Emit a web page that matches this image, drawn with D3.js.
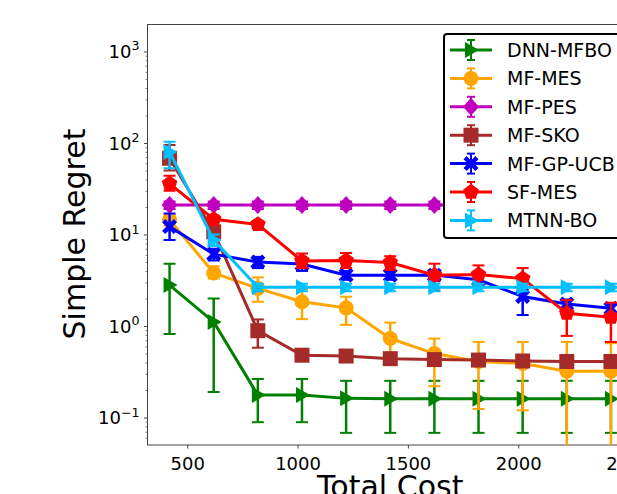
<!DOCTYPE html>
<html>
<head>
<meta charset="utf-8">
<script src="https://cdn.jsdelivr.net/npm/d3@7"></script>
<style>
  body { margin: 0; background: #fff; }
  svg { display: block; font-family: 'DejaVu Sans', sans-serif; }
</style>
</head>
<body>
<svg id="chart" width="617" height="494"></svg>
<script>
// total cost at each evaluation step
var costs = [420, 620, 820, 1020, 1220, 1420, 1620, 1820, 2020, 2220, 2420]

var dnnMean = [2.8, 1.11, 0.176, 0.176, 0.162, 0.16, 0.16, 0.16, 0.16, 0.16, 0.16]
var dnnLo = [0.82, 0.19, 0.089, 0.089, 0.068, 0.068, 0.068, 0.068, 0.068, 0.068, 0.068]
var dnnHi = [4.8, 2.0, 0.264, 0.264, 0.252, 0.252, 0.252, 0.252, 0.252, 0.252, 0.252]

var mesMean = [14.5, 3.8, 2.58, 1.84, 1.58, 0.73, 0.5, 0.41, 0.39, 0.32, 0.32]
var mesLo = [12.5, 3.3, 1.84, 1.19, 1.03, 0.48, 0.22, 0.124, 0.12, 0.001, 0.001]
var mesHi = [16.5, 4.5, 3.4, 2.52, 2.09, 1.09, 0.73, 0.67, 0.67, 0.67, 0.65]

var pesMean = [21, 21, 21, 21, 21, 21, 21, 21, 21, 21, 21]
var pesLo = [19, 19, 19, 19, 19, 19, 19, 19, 19, 19, 19]
var pesHi = [23, 23, 23, 23, 23, 23, 23, 23, 23, 23, 23]

var skoMean = [68, 10.7, 0.89, 0.48, 0.47, 0.44, 0.43, 0.425, 0.415, 0.41, 0.41]
var skoLo = [50, 9.5, 0.58, 0.45, 0.44, 0.41, 0.4, 0.4, 0.39, 0.385, 0.385]
var skoHi = [95, 12, 1.18, 0.51, 0.5, 0.47, 0.46, 0.45, 0.44, 0.435, 0.435]

var ucbMean = [12.2, 6.1, 5.0, 4.75, 3.6, 3.6, 3.6, 3.2, 2.1, 1.74, 1.56]
var ucbLo = [8.7, 5.2, 4.3, 4.0, 3.2, 3.2, 3.1, 2.9, 1.32, 1.55, 1.4]
var ucbHi = [17, 7.0, 5.7, 5.5, 4.0, 4.0, 4.1, 3.6, 2.5, 1.95, 1.72]

var sfMean = [36, 14.7, 12.9, 5.15, 5.2, 4.95, 3.6, 3.65, 3.3, 1.38, 1.25]
var sfLo = [30, 13.5, 11.8, 4.3, 4.3, 4.1, 2.45, 2.9, 2.6, 0.78, 0.67]
var sfHi = [44, 16, 14, 6.2, 6.3, 5.8, 4.8, 4.6, 4.3, 1.92, 1.8]

var mtnnMean = [80, 8.7, 2.65, 2.65, 2.65, 2.65, 2.65, 2.65, 2.65, 2.65, 2.65]
var mtnnLo = [53, 7.5, 2.4, 2.4, 2.4, 2.4, 2.4, 2.4, 2.4, 2.4, 2.4]
var mtnnHi = [103, 10, 2.9, 2.9, 2.9, 2.9, 2.9, 2.9, 2.9, 2.9, 2.9]

var names = ['DNN-MFBO', 'MF-MES', 'MF-PES', 'MF-SKO', 'MF-GP-UCB', 'SF-MES', 'MTNN-BO']
var colors = ['#008000', '#ffa500', '#bf00bf', '#a52a2a', '#0000ff', '#ff0000', '#00bfff']
var markers = ['tri', 'circle', 'diamond', 'square', 'x', 'pentagon', 'tri']

var xTicks = [500, 1000, 1500, 2000, 2500]
var yTicks = [0.1, 1, 10, 100, 1000]
var yExps = ['\u22121', '0', '1', '2', '3']

var series = [
    { mean: dnnMean, lo: dnnLo, hi: dnnHi },
    { mean: mesMean, lo: mesLo, hi: mesHi },
    { mean: pesMean, lo: pesLo, hi: pesHi },
    { mean: skoMean, lo: skoLo, hi: skoHi },
    { mean: ucbMean, lo: ucbLo, hi: ucbHi },
    { mean: sfMean, lo: sfLo, hi: sfHi },
    { mean: mtnnMean, lo: mtnnLo, hi: mtnnHi }
]

var pL = 147.5, pR = 633, pT = 24.5, pB = 445

var x = d3.scaleLinear().domain([320, 2520]).range([pL, pR])
var y = d3.scaleLog().domain([Math.pow(10, -1.3), Math.pow(10, 3.295)]).range([pB, pT])

var svg = d3.select('#chart')

svg.append('defs').append('clipPath').attr('id', 'plotclip')
    .append('rect').attr('x', pL).attr('y', pT)
    .attr('width', pR - pL).attr('height', pB - pT)

// marker path builder, centred on 0,0
function markerPath(kind) {
    var p = d3.path()
    if (kind === 'circle') {
        p.arc(0, 0, 7.5, 0, 2 * Math.PI)
    } else if (kind === 'square') {
        p.rect(-7.5, -7.5, 15, 15)
    } else if (kind === 'diamond') {
        p.moveTo(0, -9); p.lineTo(8, 0); p.lineTo(0, 9); p.lineTo(-8, 0); p.closePath()
    } else if (kind === 'tri') {
        p.moveTo(8, 0); p.lineTo(-6, -8); p.lineTo(-6, 8); p.closePath()
    } else if (kind === 'pentagon') {
        for (var i = 0; i < 5; i++) {
            var a = -Math.PI / 2 + i * 2 * Math.PI / 5
            var px = 8.2 * Math.cos(a), py = 8.2 * Math.sin(a)
            if (i === 0) p.moveTo(px, py); else p.lineTo(px, py)
        }
        p.closePath()
    } else if (kind === 'x') {
        var s = 7.5, w = 3.2
        p.moveTo(-s + w, -s); p.lineTo(0, -w); p.lineTo(s - w, -s); p.lineTo(s, -s + w)
        p.lineTo(w, 0); p.lineTo(s, s - w); p.lineTo(s - w, s); p.lineTo(0, w)
        p.lineTo(-s + w, s); p.lineTo(-s, s - w); p.lineTo(-w, 0); p.lineTo(-s, -s + w)
        p.closePath()
    }
    return p.toString()
}

// spines
svg.append('rect').attr('x', pL).attr('y', pT)
    .attr('width', pR - pL).attr('height', pB - pT)
    .attr('fill', 'none').attr('stroke', '#444').attr('stroke-width', 1)

// x axis
var xAxis = d3.axisBottom(x).tickValues(xTicks).tickSize(3.5).tickPadding(4).tickFormat(d3.format('d'))
var xg = svg.append('g').attr('transform', 'translate(0,' + pB + ')').call(xAxis)
xg.select('.domain').remove()
xg.selectAll('.tick line').attr('stroke', '#444')
xg.selectAll('.tick text').attr('font-size', 18).attr('font-family', 'DejaVu Sans')
    .attr('fill', '#000').attr('dy', '0.95em')

// y axis: major ticks with 10^n labels, minor ticks in between
var minor = []
for (var e = -2; e <= 3; e++) {
    for (var m = 2; m <= 9; m++) {
        var v = m * Math.pow(10, e)
        if (v >= y.domain()[0] && v <= y.domain()[1]) minor.push(v)
    }
}
var yAxisMinor = d3.axisLeft(y).tickValues(minor).tickSize(2).tickFormat('')
var ygm = svg.append('g').attr('transform', 'translate(' + pL + ',0)').call(yAxisMinor)
ygm.select('.domain').remove()
ygm.selectAll('.tick line').attr('stroke', '#444').attr('stroke-width', 0.7)

var yAxis = d3.axisLeft(y).tickValues(yTicks).tickSize(3.5).tickFormat('')
var yg = svg.append('g').attr('transform', 'translate(' + pL + ',0)').call(yAxis)
yg.select('.domain').remove()
yg.selectAll('.tick line').attr('stroke', '#444')

yTicks.forEach(function (t, i) {
    var tx = svg.append('text').attr('x', 139.5).attr('y', y(t) + 6.5)
        .attr('text-anchor', 'end').attr('font-size', 18).attr('fill', '#000')
    tx.append('tspan').text('10')
    tx.append('tspan').attr('font-size', 12.6).attr('dy', -7.5).text(yExps[i])
})

// axis titles (the x title is cut by the bottom edge, as in the source figure)
svg.append('text').attr('x', (pL + pR) / 2).attr('y', 497)
    .attr('text-anchor', 'middle').attr('font-size', 30).text('Total Cost')
svg.append('text').attr('transform', 'translate(85,234) rotate(-90)')
    .attr('text-anchor', 'middle').attr('font-size', 30).text('Simple Regret')

// series
var plot = svg.append('g').attr('clip-path', 'url(#plotclip)')
var line = d3.line().x(function (d) { return x(d.c) }).y(function (d) { return y(d.m) })

series.forEach(function (s, k) {
    var pts = costs.map(function (c, i) {
        return { c: c, m: s.mean[i], lo: s.lo[i], hi: s.hi[i] }
    })
    var g = plot.append('g')
    var col = colors[k]

    g.selectAll('line.err').data(pts).enter().append('line')
        .attr('x1', function (d) { return x(d.c) }).attr('x2', function (d) { return x(d.c) })
        .attr('y1', function (d) { return y(d.hi) }).attr('y2', function (d) { return y(d.lo) })
        .attr('stroke', col).attr('stroke-width', 2.5)
    g.selectAll('line.caphi').data(pts).enter().append('line')
        .attr('x1', function (d) { return x(d.c) - 6 }).attr('x2', function (d) { return x(d.c) + 6 })
        .attr('y1', function (d) { return y(d.hi) }).attr('y2', function (d) { return y(d.hi) })
        .attr('stroke', col).attr('stroke-width', 2)
    g.selectAll('line.caplo').data(pts).enter().append('line')
        .attr('x1', function (d) { return x(d.c) - 6 }).attr('x2', function (d) { return x(d.c) + 6 })
        .attr('y1', function (d) { return y(d.lo) }).attr('y2', function (d) { return y(d.lo) })
        .attr('stroke', col).attr('stroke-width', 2)

    g.append('path').datum(pts).attr('d', line)
        .attr('fill', 'none').attr('stroke', col).attr('stroke-width', 3)

    g.selectAll('path.mk').data(pts).enter().append('path')
        .attr('d', markerPath(markers[k]))
        .attr('transform', function (d) { return 'translate(' + x(d.c) + ',' + y(d.m) + ')' })
        .attr('fill', col)
})

// legend
var lx = 444, ly = 34, lw = 190, lh = 204
var lg = svg.append('g')
lg.append('rect').attr('x', lx).attr('y', ly).attr('width', lw).attr('height', lh)
    .attr('rx', 3).attr('fill', '#fff').attr('stroke', '#000').attr('stroke-width', 2)

names.forEach(function (name, k) {
    var ry = 50 + k * 28.4
    var col = colors[k]
    lg.append('line').attr('x1', 450).attr('x2', 492).attr('y1', ry).attr('y2', ry)
        .attr('stroke', col).attr('stroke-width', 3)
    lg.append('line').attr('x1', 471).attr('x2', 471).attr('y1', ry - 10).attr('y2', ry + 10)
        .attr('stroke', col).attr('stroke-width', 2)
    lg.append('line').attr('x1', 467).attr('x2', 475).attr('y1', ry - 10).attr('y2', ry - 10)
        .attr('stroke', col).attr('stroke-width', 2)
    lg.append('line').attr('x1', 467).attr('x2', 475).attr('y1', ry + 10).attr('y2', ry + 10)
        .attr('stroke', col).attr('stroke-width', 2)
    lg.append('path').attr('d', markerPath(markers[k]))
        .attr('transform', 'translate(471,' + ry + ')').attr('fill', col)
    lg.append('text').attr('x', 507).attr('y', ry + 7).attr('font-size', 19)
        .attr('fill', '#000').text(name)
})
</script>
</body>
</html>
